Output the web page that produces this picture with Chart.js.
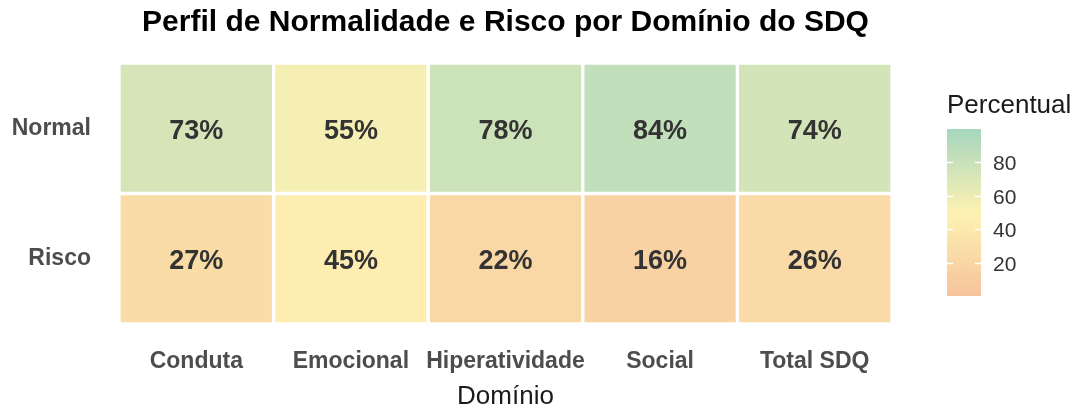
<!DOCTYPE html>
<html>
<head>
<meta charset="utf-8">
<script src="https://cdn.jsdelivr.net/npm/chart.js@4"></script>
<style>
  html, body { margin: 0; background: #fff; }
  #wrap { width: 1087px; height: 412px; }
</style>
</head>
<body>
<div id="wrap"><canvas id="sdqHeat"></canvas></div>
<script>
// dados
const dominios = ['Conduta', 'Emocional', 'Hiperatividade', 'Social', 'Total SDQ'];
const linhas = ['Risco', 'Normal'];           // de baixo para cima
const pctRisco = [27, 45, 22, 16, 26];
const pctNormal = [73, 55, 78, 84, 74];
const legendTicks = [20, 40, 60, 80];

const FONT = '"Liberation Sans", Arial, sans-serif';

// escala de cores tipo gradient2 (baixo / meio / alto), limites 0-100
const lowCol = [245, 195, 155];
const midCol = [254, 242, 178];
const highCol = [165, 214, 190];
function fillFor(v) {
  const t = v / 100;
  let a, b, f;
  if (t < 0.5) { a = lowCol; b = midCol; f = t / 0.5; }
  else { a = midCol; b = highCol; f = (t - 0.5) / 0.5; }
  const c = a.map((x, i) => Math.round(x + (b[i] - x) * f));
  return 'rgb(' + c.join(',') + ')';
}

function tileDataset(label, pcts) {
  return {
    label: label,
    data: pcts.map(() => 1),
    pct: pcts,
    backgroundColor: pcts.map(fillFor),
    borderColor: '#ffffff',
    borderWidth: 2,
    borderSkipped: false,
    barPercentage: 1,
    categoryPercentage: 1
  };
}

const heatDecor = {
  id: 'heatDecor',
  afterDatasetsDraw(chart) {
    const ctx = chart.ctx;
    const area = chart.chartArea;
    ctx.save();

    // rótulos das células
    ctx.fillStyle = '#333333';
    ctx.font = 'bold 27px ' + FONT;
    ctx.textAlign = 'center';
    ctx.textBaseline = 'middle';
    chart.data.datasets.forEach((ds, di) => {
      chart.getDatasetMeta(di).data.forEach((bar, i) => {
        const p = bar.getProps(['x', 'y', 'base'], true);
        ctx.fillText(ds.pct[i] + '%', p.x, (p.y + p.base) / 2 + 3);
      });
    });

    // título centrado sobre o painel
    ctx.fillStyle = '#000000';
    ctx.font = 'bold 30px ' + FONT;
    ctx.fillText('Perfil de Normalidade e Risco por Domínio do SDQ', (area.left + area.right) / 2, 23);

    // legenda de cor
    const barL = 947, barW = 34, barTop = 129, barBot = 296;
    const grad = ctx.createLinearGradient(0, barBot, 0, barTop);
    for (let k = 0; k <= 20; k++) grad.addColorStop(k / 20, fillFor(k * 5));
    ctx.fillStyle = grad;
    ctx.fillRect(barL, barTop, barW, barBot - barTop);

    ctx.textAlign = 'left';
    ctx.fillStyle = '#1a1a1a';
    ctx.font = '26px ' + FONT;
    ctx.fillText('Percentual', barL, 106);

    ctx.font = '21px ' + FONT;
    ctx.fillStyle = '#333333';
    ctx.strokeStyle = '#ffffff';
    ctx.lineWidth = 1.5;
    legendTicks.forEach(v => {
      const y = Math.round(barBot - (v / 100) * (barBot - barTop)) + 0.5;
      ctx.beginPath();
      ctx.moveTo(barL, y); ctx.lineTo(barL + 6, y);
      ctx.moveTo(barL + barW - 6, y); ctx.lineTo(barL + barW, y);
      ctx.stroke();
      ctx.fillText(String(v), barL + 46, y + 2);
    });
    ctx.restore();
  }
};

const ctx = document.getElementById('sdqHeat').getContext('2d');
new Chart(ctx, {
  type: 'bar',
  data: {
    labels: dominios,
    datasets: [tileDataset('Risco', pctRisco), tileDataset('Normal', pctNormal)]
  },
  options: {
    responsive: true,
    maintainAspectRatio: false,
    animation: false,
    layout: { padding: { top: 63, right: 195 } },
    plugins: {
      legend: { display: false },
      tooltip: { enabled: false }
    },
    scales: {
      x: {
        stacked: true,
        grid: { display: false, drawTicks: false },
        border: { display: false },
        ticks: {
          color: '#4D4D4D',
          font: { family: FONT, size: 23, weight: 'bold' },
          padding: 24,
          maxRotation: 0,
          autoSkip: false
        },
        title: {
          display: true,
          text: 'Domínio',
          color: '#1a1a1a',
          font: { family: FONT, size: 26 },
          padding: 0
        },
        afterFit(scale) { scale.height = 88; }
      },
      y: {
        stacked: true,
        min: 0,
        max: 2,
        grid: { display: false, drawTicks: false },
        border: { display: false },
        afterBuildTicks(scale) {
          scale.ticks = linhas.map((_, i) => ({ value: i + 0.5 }));
        },
        ticks: {
          color: '#4D4D4D',
          font: { family: FONT, size: 23, weight: 'bold' },
          padding: 28,
          callback: (v) => linhas[Math.floor(v)]
        },
        afterFit(scale) { scale.width = 119; }
      }
    }
  },
  plugins: [heatDecor]
});
</script>
</body>
</html>
